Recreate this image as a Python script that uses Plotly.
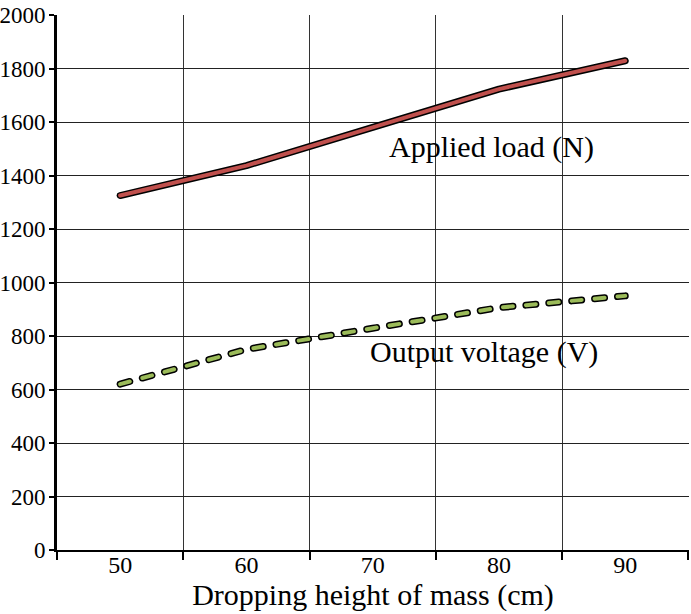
import plotly.graph_objects as go

heights = [50, 60, 70, 80, 90]
applied_load = [1325, 1437, 1580, 1723, 1829]
output_voltage = [620, 750, 829, 906, 950]
x_ticks = [50, 60, 70, 80, 90]
x_bounds = [45, 55, 65, 75, 85, 95]
y_ticks = list(range(0, 2001, 200))

FONT = "Liberation Serif, Times New Roman, serif"
fig = go.Figure()

# outlines
fig.add_trace(go.Scatter(x=heights, y=applied_load, mode="lines",
                         line=dict(color="black", width=7), hoverinfo="skip"))
fig.add_trace(go.Scatter(x=heights, y=output_voltage, mode="lines",
                         line=dict(color="black", width=7, dash="10px,13px"), hoverinfo="skip"))
# fills
fig.add_trace(go.Scatter(x=heights, y=applied_load, mode="lines", name="Applied load (N)",
                         line=dict(color="#C0504D", width=4)))
fig.add_trace(go.Scatter(x=heights, y=output_voltage, mode="lines", name="Output voltage (V)",
                         line=dict(color="#9BBB59", width=4, dash="10px,13px")))

fig.add_annotation(x=79.4, y=1506, text="Applied load (N)", showarrow=False,
                   font=dict(family=FONT, size=30, color="black"))
fig.add_annotation(x=78.8, y=740, text="Output voltage (V)", showarrow=False,
                   font=dict(family=FONT, size=30, color="black"))

fig.update_layout(
    width=691, height=614,
    margin=dict(l=57, r=2, t=15, b=64),
    paper_bgcolor="white", plot_bgcolor="white",
    showlegend=False,
    font=dict(family=FONT, color="black"),
    xaxis=dict(
        range=[45, 95.05], tickmode="array", tickvals=x_ticks,
        ticktext=[str(v) for v in x_ticks], ticks="", ticklen=0, showgrid=False,
        tickfont=dict(family=FONT, size=24, color="black"),
        ticklabelstandoff=-8,
        showline=True, linecolor="black", linewidth=2, zeroline=False,
        automargin=False,
        minor=dict(tickmode="array", tickvals=x_bounds, ticks="outside", ticklen=8,
                   tickcolor="black", tickwidth=1.5, showgrid=True,
                   gridcolor="#333333", gridwidth=1),
        title=dict(text="Dropping height of mass (cm)", standoff=4,
                   font=dict(family=FONT, size=30, color="black")),
    ),
    yaxis=dict(
        range=[0, 2000], tickmode="array", tickvals=y_ticks,
        ticks="outside", ticklen=5, tickcolor="black", tickwidth=1.5,
        tickfont=dict(family=FONT, size=23, color="black"),
        ticklabelstandoff=-1,
        showgrid=True, gridcolor="#222222", gridwidth=1,
        showline=True, linecolor="black", linewidth=3, zeroline=False,
        automargin=False,
    ),
)

post = """
document.body.style.margin = '0';
document.body.style.padding = '0';
var paths = document.querySelectorAll('.scatterlayer .js-line');
paths.forEach(function(p){ p.style.strokeLinecap = 'round'; p.style.strokeLinejoin = 'round'; });
"""
fig.write_html("out.html", post_script=post, config={"displayModeBar": False})
